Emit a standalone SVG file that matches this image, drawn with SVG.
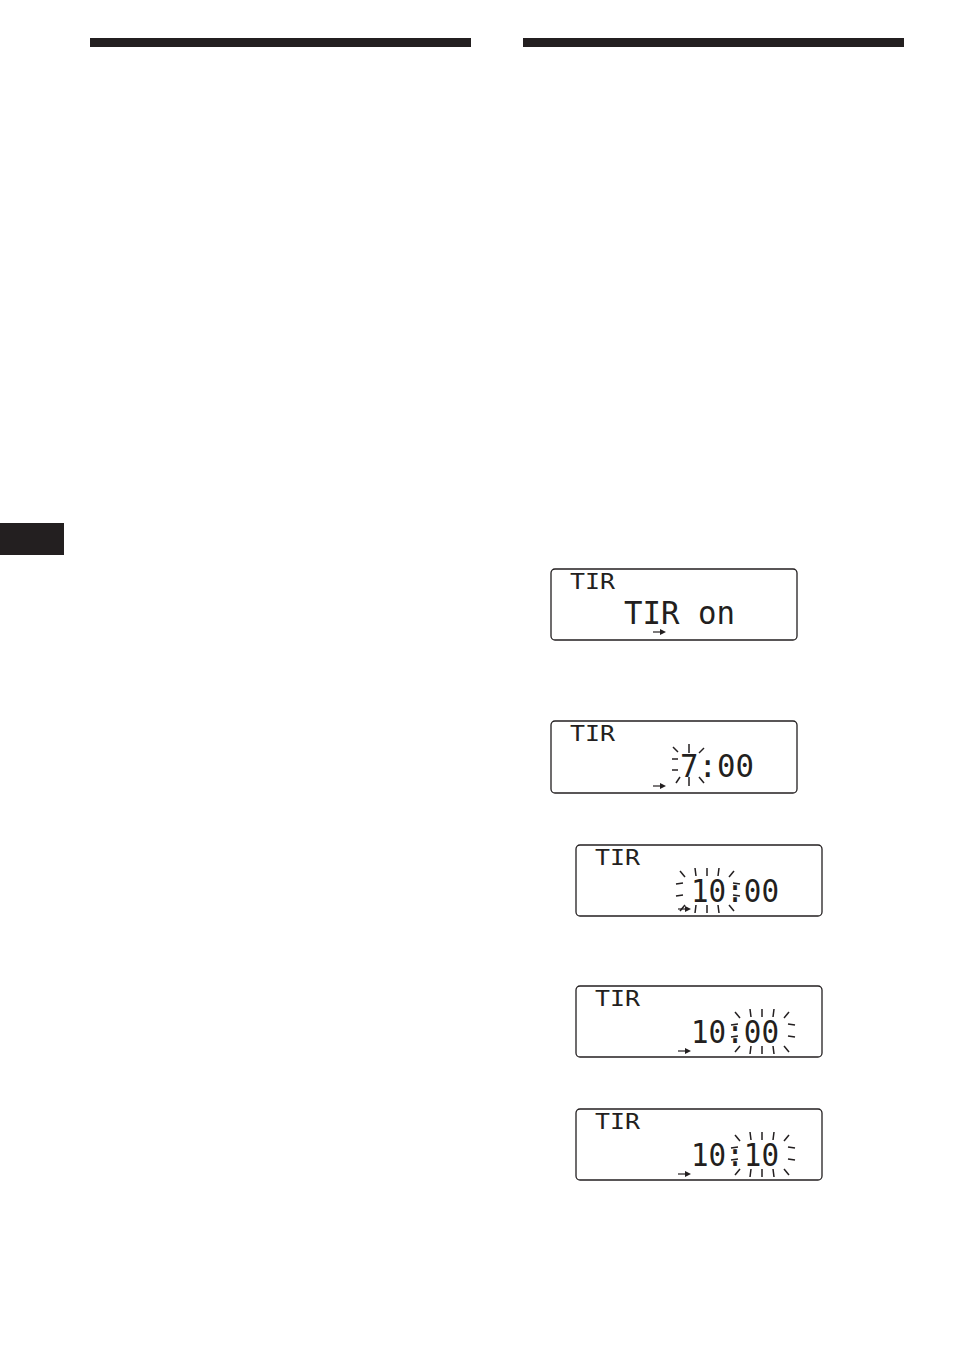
<svg xmlns="http://www.w3.org/2000/svg" xmlns:xlink="http://www.w3.org/1999/xlink" width="954" height="1355" viewBox="0 0 954 1355">
<style>
.bar{fill:#231f20}
.frame{fill:#fff;stroke:#231f20;stroke-width:1.3}
.lcd{font-family:"DejaVu Sans Mono","Liberation Mono",monospace;fill:#231f20}
.small{font-size:22px}
.big{font-size:32px}
.ray{stroke:#231f20;stroke-width:1.5;stroke-linecap:butt}
.arr{stroke:#231f20;stroke-width:1.2}
</style>
<defs>
<g id="burstS">
<line class="ray" x1="-16" y1="-18" x2="-11" y2="-13"/>
<line class="ray" x1="0" y1="-21" x2="0" y2="-12"/>
<line class="ray" x1="15" y1="-17" x2="10" y2="-12"/>
<line class="ray" x1="-17" y1="-6" x2="-11" y2="-6"/>
<line class="ray" x1="-17" y1="5" x2="-11" y2="5"/>
<line class="ray" x1="-13" y1="18" x2="-9" y2="12"/>
<line class="ray" x1="0" y1="21" x2="0" y2="12"/>
<line class="ray" x1="15" y1="18" x2="10" y2="12"/>
</g>
<g id="burstL">
<line class="ray" x1="-28" y1="-19" x2="-23" y2="-13"/>
<line class="ray" x1="-13" y1="-22" x2="-12" y2="-14"/>
<line class="ray" x1="-1" y1="-22" x2="-1" y2="-14"/>
<line class="ray" x1="11" y1="-22" x2="10" y2="-14"/>
<line class="ray" x1="26" y1="-19" x2="21" y2="-13"/>
<line class="ray" x1="-32" y1="-6" x2="-25" y2="-7"/>
<line class="ray" x1="-32" y1="6" x2="-25" y2="5"/>
<line class="ray" x1="25" y1="-7" x2="32" y2="-6"/>
<line class="ray" x1="25" y1="5" x2="32" y2="6"/>
<line class="ray" x1="-28" y1="21" x2="-23" y2="15"/>
<line class="ray" x1="-13" y1="23" x2="-12" y2="15"/>
<line class="ray" x1="-1" y1="23" x2="-1" y2="15"/>
<line class="ray" x1="11" y1="23" x2="10" y2="15"/>
<line class="ray" x1="26" y1="21" x2="21" y2="15"/>
</g>
<g id="arrow">
<line class="arr" x1="0" y1="0" x2="8" y2="0"/>
<path d="M7,-3 L13,0 L7,3 Z" fill="#231f20"/>
</g>
</defs>

<g id="header-bars">
<rect class="bar" x="90" y="38" width="381" height="9"/>
<rect class="bar" x="523" y="38" width="381" height="9"/>
<rect class="bar" x="0" y="523" width="64" height="32"/>
</g>

<g id="display1">
<rect class="frame" x="551" y="569" width="246" height="71" rx="4"/>
<text class="lcd small" x="570" y="589" textLength="45" lengthAdjust="spacingAndGlyphs">TIR</text>
<text class="lcd big" x="624" y="624" textLength="111" lengthAdjust="spacingAndGlyphs">TIR on</text>
<use xlink:href="#arrow" x="653" y="632"/>
</g>

<g id="display2">
<rect class="frame" x="551" y="721" width="246" height="72" rx="4"/>
<text class="lcd small" x="570" y="741" textLength="45" lengthAdjust="spacingAndGlyphs">TIR</text>
<text class="lcd big" x="680" y="777" textLength="74" lengthAdjust="spacingAndGlyphs">7:00</text>
<use xlink:href="#burstS" x="689" y="765"/>
<use xlink:href="#arrow" x="653" y="786"/>
</g>

<g id="display3">
<rect class="frame" x="576" y="845" width="246" height="71" rx="4"/>
<text class="lcd small" x="595" y="865" textLength="45" lengthAdjust="spacingAndGlyphs">TIR</text>
<text class="lcd big" x="691" y="902" textLength="88" lengthAdjust="spacingAndGlyphs">10:00</text>
<use xlink:href="#burstL" x="708" y="890"/>
<use xlink:href="#arrow" x="678" y="909"/>
</g>

<g id="display4">
<rect class="frame" x="576" y="986" width="246" height="71" rx="4"/>
<text class="lcd small" x="595" y="1006" textLength="45" lengthAdjust="spacingAndGlyphs">TIR</text>
<text class="lcd big" x="691" y="1043" textLength="88" lengthAdjust="spacingAndGlyphs">10:00</text>
<use xlink:href="#burstL" x="763" y="1031"/>
<use xlink:href="#arrow" x="678" y="1051"/>
</g>

<g id="display5">
<rect class="frame" x="576" y="1109" width="246" height="71" rx="4"/>
<text class="lcd small" x="595" y="1129" textLength="45" lengthAdjust="spacingAndGlyphs">TIR</text>
<text class="lcd big" x="691" y="1166" textLength="88" lengthAdjust="spacingAndGlyphs">10:10</text>
<use xlink:href="#burstL" x="763" y="1154"/>
<use xlink:href="#arrow" x="678" y="1174"/>
</g>

<g id="connectors"/>
</svg>
